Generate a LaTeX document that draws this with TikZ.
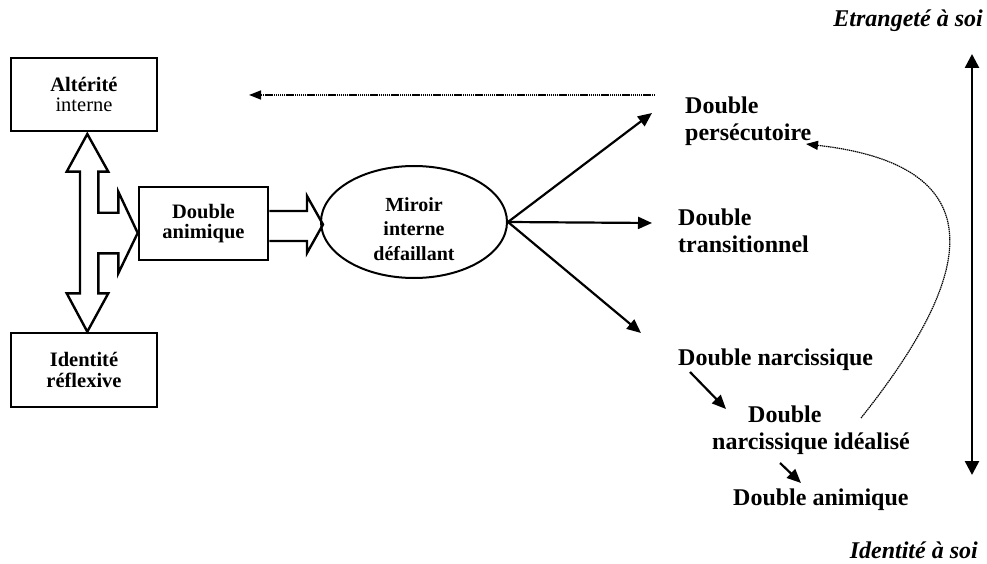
\documentclass[tikz,border=0pt]{standalone}
\usepackage{fontspec}
\setmainfont{Liberation Serif}
\usetikzlibrary{arrows.meta,shapes.geometric,calc}

\begin{document}
\begin{tikzpicture}[x=1pt,y=-1pt,
  box/.style={draw, line width=2.6pt, minimum width=146pt, minimum height=73pt,
    inner sep=0pt, align=center, font=\fontsize{20.5}{20.5}\selectfont},
  mirror/.style={draw, ellipse, line width=2pt, minimum width=186pt, minimum height=112pt,
    inner sep=0pt},
  mirrortext/.style={inner sep=0pt, align=center, font=\fontsize{20}{24.5}\selectfont\bfseries},
  lab/.style={inner sep=0pt, align=left, font=\fontsize{24}{27}\selectfont\bfseries},
  pole/.style={inner sep=0pt, font=\fontsize{24}{27}\selectfont\bfseries\itshape},
  block/.style={draw, line width=2.4pt, line join=miter, fill=white},
  thick arrow/.style={line width=2.2pt, -{Triangle[length=14pt,width=12pt]}},
  dot arrow/.style={line width=1.6pt, dash pattern=on 1.4pt off 0.7pt,
    -{Triangle[length=12pt,width=9pt]}},
  axis arrow/.style={line width=2.6pt, {Triangle[length=14pt,width=14pt]}-{Triangle[length=14pt,width=14pt]}}
]
\fill[white] (0,0) rectangle (987,564);
\useasboundingbox (0,0) rectangle (987,564);

% left column of boxes
\node[box] (alt) at (84,94.5) {\textbf{Altérité}\\interne};
\node[box, minimum height=74pt] (ident) at (84,370) {\textbf{Identité}\\\textbf{réflexive}};
\node[box, minimum width=129pt] (anim) at (203.5,223.5) {\textbf{Double}\\\textbf{animique}};

% three-way block arrow between the boxes
\draw[block] (87.3,134) -- (108.3,171.7) -- (98.3,171.7) -- (98.3,212.7) -- (118.3,212.7)
  -- (118.3,191.7) -- (anim.west |- 0,233) -- (118.3,273.3) -- (118.3,253.3) -- (98.3,253.3)
  -- (98.3,293.3) -- (108.3,293.3) -- (87.3,331.7) -- (66.7,293.3) -- (80,293.3)
  -- (80,171.7) -- (66.7,171.7) -- cycle;

% central mirror
\node[mirror] (mir) at (414,222) {};
\node[mirrortext] (mirtext) at ($(mir.center)+(0,7)$) {Miroir\\interne\\défaillant};

% block arrow from the animic double to the mirror
\draw[block, fill=none] (anim.east |- 0,211) -- (307,211) -- (307,196) -- (323,224.5)
  -- (307,253) -- (307,241) -- (anim.east |- 0,241);

% labels on the right
\node[lab, anchor=west] (pers) at (685,121) {Double\\persécutoire};
\node[lab, anchor=west] (trans) at (678,231) {Double\\transitionnel};
\node[lab, anchor=base west] (narc) at (678,365) {Double narcissique};
\node[lab, anchor=west] (ideal) at (712,430) {\hspace*{36pt}Double\\narcissique idéalisé};
\node[lab, anchor=base west] (anim2) at (733,505) {Double animique};
\node[pole, anchor=base east] (etr) at (983,27) {Etrangeté à soi};
\node[pole, anchor=base east] (idt) at (978,558) {Identité à soi};

% arrow tips near the labels
\coordinate (tpers) at (652,113);
\coordinate (ttrans) at (652,223);
\coordinate (tnarc) at (641,333);
\coordinate (dstart) at (655,95);
\coordinate (dend) at (249,95);
\coordinate (n1) at (690,372);
\coordinate (n2) at (726,409);
\coordinate (i1) at (780,463);
\coordinate (i2) at (801,483);
\coordinate (cstart) at (861,418);
\coordinate (cend) at (806,144);
\coordinate (atop) at (972,54);
\coordinate (abot) at (972,475);

% connectors
\draw[thick arrow] (mir.east) -- (tpers);
\draw[thick arrow] (mir.east) -- (ttrans);
\draw[thick arrow] (mir.east) -- (tnarc);
\draw[dot arrow] (dstart) -- (dend);
\draw[thick arrow] (n1) -- (n2);
\draw[thick arrow] (i1) -- (i2);
\draw[dot arrow, line width=1.2pt] (cstart) .. controls (955,300) and (1018,168) .. (cend);
\draw[axis arrow] (atop) -- (abot);
\end{tikzpicture}
\end{document}
